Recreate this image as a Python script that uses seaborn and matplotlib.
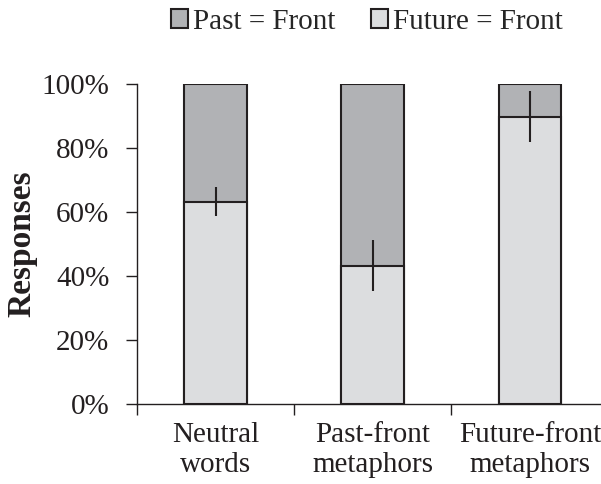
import matplotlib
matplotlib.use("Agg")
import matplotlib.pyplot as plt
import seaborn as sns
import pandas as pd
from matplotlib.patches import Patch
from matplotlib.ticker import PercentFormatter

# values (percent of responses)
conditions = ["Neutral\nwords", "Past-front\nmetaphors", "Future-front\nmetaphors"]
future_front = [63.2, 43.2, 89.8]
past_front = [36.8, 56.8, 10.2]
err_low = [58.7, 35.5, 81.8]
err_high = [67.9, 51.2, 97.8]

df = pd.DataFrame({"Condition": conditions,
                   "Future": future_front,
                   "Past": past_front})
df["Total"] = df["Future"] + df["Past"]

sns.set_style("white")
plt.rcParams["font.family"] = ["Liberation Serif", "DejaVu Serif"]

dark = "#b1b2b5"
light = "#dcdddf"
edge = "#231f20"

fig = plt.figure(figsize=(6.01, 4.84), dpi=100)
ax = fig.add_axes([0.228, 0.165, 0.772, 0.661])

# stacked bars: full height first (past on top), then future on bottom
sns.barplot(x="Condition", y="Total", data=df, color=dark, width=0.4,
            edgecolor=edge, linewidth=1.5, saturation=1, ax=ax)
sns.barplot(x="Condition", y="Future", data=df, color=light, width=0.4,
            edgecolor=edge, linewidth=1.5, saturation=1, ax=ax)

# error bars
for i in range(len(conditions)):
    ax.plot([i, i], [err_low[i], err_high[i]], color=edge, lw=1.5,
            solid_capstyle="butt", zorder=5)

ax.set_xlim(-0.5, 2.452)
ax.set_ylim(0, 100)
ax.set_yticks([0, 20, 40, 60, 80, 100])
ax.yaxis.set_major_formatter(PercentFormatter(decimals=0))

# category boundary ticks on the x axis, labels centred under bars
ax.set_xticks([-0.5, 0.5, 1.5])
ax.set_xticklabels([])
ax.set_xticks([0, 1, 2], minor=True)
ax.set_xticklabels(conditions, minor=True)
ax.tick_params(axis="x", which="major", direction="out", length=8, width=1,
               color=edge, bottom=True)
ax.tick_params(axis="x", which="minor", length=0, pad=13, labelsize=21,
               labelcolor="#231f20")
ax.tick_params(axis="y", direction="out", length=8, width=1, color=edge,
               left=True, labelsize=21, labelcolor="#231f20", pad=12)

ax.set_xlabel("")
ax.set_ylabel("Responses", fontsize=24, fontweight="bold", color="#231f20")
ax.yaxis.set_label_coords(-0.215, 0.5)

for s in ["top", "right"]:
    ax.spines[s].set_visible(False)
for s in ["left", "bottom"]:
    ax.spines[s].set_color(edge)
    ax.spines[s].set_linewidth(1)

handles = [Patch(facecolor=dark, edgecolor=edge, linewidth=1.5, label="Past = Front"),
           Patch(facecolor=light, edgecolor=edge, linewidth=1.5, label="Future = Front")]
fig.legend(handles=handles, loc="center", bbox_to_anchor=(0.61, 0.955), ncol=2,
           frameon=False, fontsize=21, handlelength=0.6, handleheight=0.6,
           handletextpad=0.15, columnspacing=1.22)

fig.savefig("out.png", dpi=100)
